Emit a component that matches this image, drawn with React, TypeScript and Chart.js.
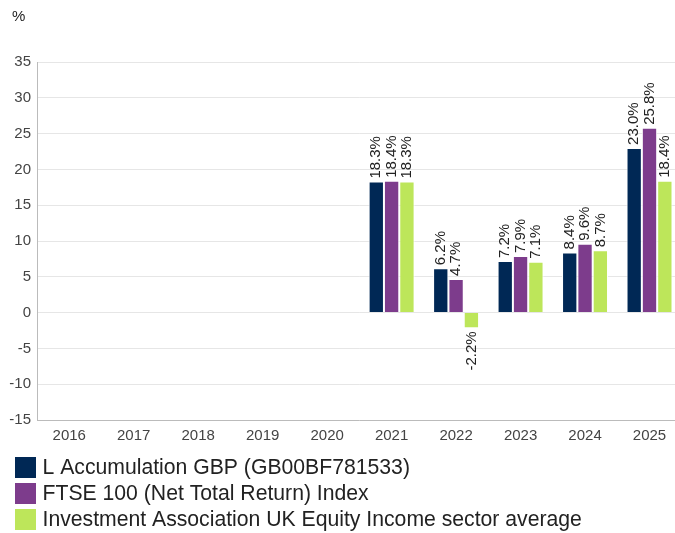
import React, { useEffect, useRef } from "react";
import { Chart, registerables } from "chart.js";

Chart.register(...registerables);

const categories = ["2016", "2017", "2018", "2019", "2020", "2021", "2022", "2023", "2024", "2025"];
const fundValues = [null, null, null, null, null, 18.3, 6.2, 7.2, 8.4, 23.0];
const indexValues = [null, null, null, null, null, 18.4, 4.7, 7.9, 9.6, 25.8];
const sectorValues = [null, null, null, null, null, 18.3, -2.2, 7.1, 8.7, 18.4];
const seriesNames = [
  "L Accumulation GBP (GB00BF781533)",
  "FTSE 100 (Net Total Return) Index",
  "Investment Association UK Equity Income sector average",
];
const seriesColors = ["#002855", "#7d3c8c", "#bde65a"];
const yMin = -15;
const yMax = 35;
const yStep = 5;

const FONT = "'Liberation Sans', Arial, sans-serif";

const valueLabelPlugin = {
  id: "valueLabels",
  afterDatasetsDraw(chart: any) {
    const ctx = chart.ctx;
    ctx.save();
    ctx.font = `15px ${FONT}`;
    ctx.fillStyle = "#222";
    ctx.textBaseline = "middle";
    chart.data.datasets.forEach((ds: any, di: number) => {
      const meta = chart.getDatasetMeta(di);
      meta.data.forEach((el: any, i: number) => {
        const v = ds.data[i];
        if (v === null || v === undefined) return;
        const txt = v.toFixed(1) + "%";
        ctx.save();
        if (v >= 0) {
          ctx.translate(el.x, el.y - 3);
          ctx.rotate(-Math.PI / 2);
          ctx.textAlign = "left";
        } else {
          ctx.translate(el.x, el.y + 3);
          ctx.rotate(-Math.PI / 2);
          ctx.textAlign = "right";
        }
        ctx.fillText(txt, 0, 0);
        ctx.restore();
      });
    });
    ctx.restore();
  },
};

const extrasPlugin = {
  id: "extras",
  afterDraw(chart: any) {
    const ctx = chart.ctx;
    ctx.save();
    ctx.fillStyle = "#222";
    ctx.font = `15px ${FONT}`;
    ctx.textBaseline = "middle";
    ctx.textAlign = "left";
    ctx.fillText("%", 12, 17);
    ctx.font = `21.2px ${FONT}`;
    chart.data.datasets.forEach((ds: any, i: number) => {
      const top = 457 + 26 * i;
      ctx.fillStyle = ds.backgroundColor;
      ctx.fillRect(15, top, 21, 21);
      ctx.fillStyle = "#222";
      ctx.fillText(ds.label, 42.5, top + 11);
    });
    ctx.restore();
  },
};

export default function App() {
  const ref = useRef<HTMLCanvasElement>(null);
  useEffect(() => {
    if (!ref.current) return;
    const datasets = [fundValues, indexValues, sectorValues].map((d, i) => ({
      label: seriesNames[i],
      data: d,
      backgroundColor: seriesColors[i],
      borderColor: "#ffffff",
      borderWidth: 1,
      categoryPercentage: 0.713,
      barPercentage: 1,
    }));
    const chart = new Chart(ref.current, {
      type: "bar",
      data: { labels: categories, datasets },
      options: {
        animation: false,
        responsive: false,
        maintainAspectRatio: false,
        layout: { padding: { left: 0, top: 62, right: 8.25, bottom: 88 } },
        plugins: { legend: { display: false }, tooltip: { enabled: false } },
        scales: {
          x: {
            grid: { display: false, drawTicks: false },
            border: { display: true, color: "#bbbbbb" },
            ticks: { color: "#444", font: { family: FONT, size: 15 }, padding: 7, maxRotation: 0 },
            afterFit: (s: any) => { s.height = 32; },
          },
          y: {
            min: yMin,
            max: yMax,
            ticks: { stepSize: yStep, color: "#444", font: { family: FONT, size: 15 }, padding: 6 },
            grid: { color: "#e6e6e6", drawTicks: false },
            border: { display: true, color: "#bbbbbb" },
            afterFit: (s: any) => { s.width = 37; },
          },
        },
      },
      plugins: [valueLabelPlugin, extrasPlugin],
    });
    return () => chart.destroy();
  }, []);
  return (
    <div style={{ position: "fixed", left: 0, top: 0, width: 675, height: 533, overflow: "hidden", background: "#fff" }}>
      <canvas ref={ref} width={690} height={540} style={{ width: 690, height: 540, display: "block" }} />
    </div>
  );
}
